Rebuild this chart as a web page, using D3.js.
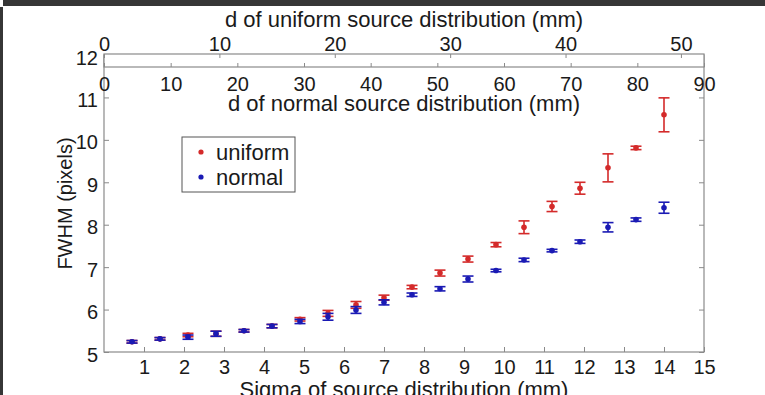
<!DOCTYPE html>
<html>
<head>
<meta charset="utf-8">
<script src="https://cdn.jsdelivr.net/npm/d3@7"></script>
<style>
  body { margin: 0; background: #fff; }
  svg { display: block; font-family: "Liberation Sans", Arial, sans-serif; }
  .tick text { fill: #1a1a1a; }
</style>
</head>
<body>
<div id="chart"></div>
<script>
// sigma of source distribution (mm)
const sigma = [0.7, 1.4, 2.1, 2.8, 3.5, 4.2, 4.9, 5.6, 6.3, 7.0, 7.7, 8.4, 9.1, 9.8, 10.5, 11.2, 11.9, 12.6, 13.3, 14.0];

// FWHM (pixels), uniform source
const uniformMean = [5.24, 5.31, 5.40, 5.43, 5.50, 5.61, 5.77, 5.91, 6.11, 6.28, 6.53, 6.86, 7.19, 7.53, 7.94, 8.43, 8.86, 9.34, 9.81, 10.59];
const uniformErr  = [0.03, 0.03, 0.04, 0.06, 0.03, 0.04, 0.04, 0.07, 0.08, 0.06, 0.04, 0.07, 0.07, 0.05, 0.15, 0.12, 0.14, 0.33, 0.04, 0.40];

// FWHM (pixels), normal source
const normalMean = [5.24, 5.31, 5.35, 5.43, 5.50, 5.61, 5.72, 5.83, 5.99, 6.17, 6.35, 6.49, 6.72, 6.92, 7.17, 7.39, 7.60, 7.94, 8.12, 8.40];
const normalErr  = [0.03, 0.03, 0.05, 0.06, 0.03, 0.04, 0.05, 0.08, 0.08, 0.06, 0.04, 0.05, 0.07, 0.03, 0.04, 0.03, 0.04, 0.11, 0.04, 0.13];

// tick labels
const xTicks = [1, 2, 3, 4, 5, 6, 7, 8, 9, 10, 11, 12, 13, 14, 15];
const yTicks = [5, 6, 7, 8, 9, 10, 11, 12];
const uniformTicks = [0, 10, 20, 30, 40, 50];
const normalTicks = [0, 10, 20, 30, 40, 50, 60, 70, 80, 90];

const W = 765, H = 395;
const box = {left: 104, right: 704, top: 55, bottom: 352};
const strip = {top: 54, bottom: 67};

const axisColor = '#8a8a8a';
const textColor = '#1a1a1a';
const red = '#d42a2a';
const blue = '#1a1ab4';

const svg = d3.select('#chart').append('svg')
    .attr('width', W)
    .attr('height', H);

// dark frame of the screenshot
svg.append('rect').attr('x', 3).attr('y', 0).attr('width', W).attr('height', 6).attr('fill', '#363636');
svg.append('rect').attr('x', 0).attr('y', 7).attr('width', 3).attr('height', H).attr('fill', '#363636');

// scales
const x = d3.scaleLinear().domain([0, 15]).range([box.left, box.right]);
const y = d3.scaleLinear().domain([5, 12]).range([box.bottom, box.top]);
const xUniform = d3.scaleLinear().domain([0, 52]).range([box.left, box.right]);
const xNormal = d3.scaleLinear().domain([0, 90]).range([box.left, box.right]);

function styleAxis(g, size) {
    g.select('.domain').remove();
    g.selectAll('.tick line').attr('stroke', axisColor).attr('stroke-width', 1);
    g.selectAll('.tick text').attr('font-size', size);
}

// main box
svg.append('rect')
    .attr('x', box.left).attr('y', box.top)
    .attr('width', box.right - box.left).attr('height', box.bottom - box.top)
    .attr('fill', 'none').attr('stroke', axisColor).attr('stroke-width', 1.2);

// bottom axis (ticks pointing in)
svg.append('g')
    .attr('transform', 'translate(0,' + box.bottom + ')')
    .call(d3.axisBottom(x).tickValues(xTicks).tickFormat(d3.format('d')).tickSizeInner(-5).tickSizeOuter(0).tickPadding(8))
    .call(g => styleAxis(g, 20));

// left axis
svg.append('g')
    .attr('transform', 'translate(' + box.left + ',0)')
    .call(d3.axisLeft(y).tickValues(yTicks).tickFormat(d3.format('d')).tickSizeInner(-5).tickSizeOuter(0).tickPadding(6))
    .call(g => styleAxis(g, 20))
    .call(g => g.selectAll('.tick text').attr('dy', '0.45em'));

// right axis ticks only
svg.append('g')
    .attr('transform', 'translate(' + box.right + ',0)')
    .call(d3.axisRight(y).tickValues(yTicks).tickFormat('').tickSizeInner(-5).tickSizeOuter(0))
    .call(g => styleAxis(g, 20));

// top strip with the two d axes
svg.append('rect')
    .attr('x', box.left).attr('y', strip.top)
    .attr('width', box.right - box.left).attr('height', strip.bottom - strip.top)
    .attr('fill', '#fff').attr('stroke', axisColor).attr('stroke-width', 1.2);

svg.append('g')
    .attr('transform', 'translate(0,' + strip.top + ')')
    .call(d3.axisTop(xUniform).tickValues(uniformTicks).tickSizeInner(-4).tickSizeOuter(0).tickPadding(3))
    .call(g => styleAxis(g, 20));

svg.append('g')
    .attr('transform', 'translate(0,' + strip.bottom + ')')
    .call(d3.axisBottom(xNormal).tickValues(normalTicks).tickSizeInner(-4).tickSizeOuter(0).tickPadding(10))
    .call(g => styleAxis(g, 20));

// axis titles
const mid = (box.left + box.right) / 2;

svg.append('text')
    .attr('x', mid).attr('y', 27)
    .attr('text-anchor', 'middle').attr('font-size', 22).attr('fill', textColor)
    .text('d of uniform source distribution (mm)');

svg.append('text')
    .attr('x', mid).attr('y', 111)
    .attr('text-anchor', 'middle').attr('font-size', 22).attr('fill', textColor)
    .text('d of normal source distribution (mm)');

svg.append('text')
    .attr('x', mid).attr('y', 397)
    .attr('text-anchor', 'middle').attr('font-size', 22).attr('fill', textColor)
    .text('Sigma of source distribution (mm)');

svg.append('text')
    .attr('transform', 'translate(72,' + (box.top + box.bottom) / 2 + ') rotate(-90)')
    .attr('text-anchor', 'middle').attr('font-size', 20).attr('fill', textColor)
    .text('FWHM (pixels)');

// error bar series
function drawSeries(means, errs, color) {
    const data = sigma.map((s, i) => ({s: s, m: means[i], e: errs[i]}));
    const g = svg.append('g').attr('stroke', color).attr('stroke-width', 1.6);
    const cap = 5.5;

    g.selectAll('.bar').data(data).enter().append('line')
        .attr('x1', d => x(d.s)).attr('x2', d => x(d.s))
        .attr('y1', d => y(d.m - d.e)).attr('y2', d => y(d.m + d.e));

    g.selectAll('.capTop').data(data).enter().append('line')
        .attr('x1', d => x(d.s) - cap).attr('x2', d => x(d.s) + cap)
        .attr('y1', d => y(d.m + d.e)).attr('y2', d => y(d.m + d.e));

    g.selectAll('.capBot').data(data).enter().append('line')
        .attr('x1', d => x(d.s) - cap).attr('x2', d => x(d.s) + cap)
        .attr('y1', d => y(d.m - d.e)).attr('y2', d => y(d.m - d.e));

    svg.append('g').selectAll('circle').data(data).enter().append('circle')
        .attr('cx', d => x(d.s)).attr('cy', d => y(d.m))
        .attr('r', 2.8).attr('fill', color);
}

drawSeries(uniformMean, uniformErr, red);
drawSeries(normalMean, normalErr, blue);

// legend
const legend = svg.append('g');
legend.append('rect')
    .attr('x', 182).attr('y', 137).attr('width', 113).attr('height', 55)
    .attr('fill', '#fff').attr('stroke', '#555').attr('stroke-width', 1);

const legendItems = [{label: 'uniform', color: red}, {label: 'normal', color: blue}];
legendItems.forEach((item, i) => {
    const cy = 152 + i * 25;
    legend.append('circle').attr('cx', 201).attr('cy', cy).attr('r', 2.6).attr('fill', item.color);
    legend.append('text')
        .attr('x', 216).attr('y', cy).attr('dy', '0.35em')
        .attr('font-size', 22).attr('fill', textColor)
        .text(item.label);
});
</script>
</body>
</html>
